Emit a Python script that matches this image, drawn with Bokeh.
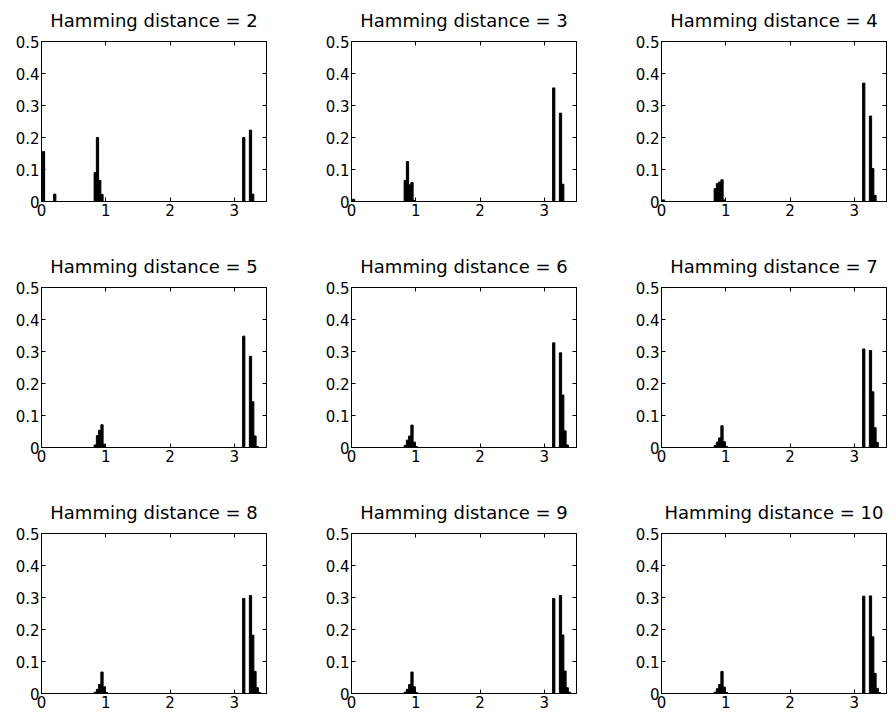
from bokeh.plotting import figure
from bokeh.layouts import gridplot
from bokeh.models import LinearAxis, FixedTicker, Range1d, CustomLabelingPolicy
from bokeh.embed import file_html
from bokeh.resources import INLINE

# ---------------- data ----------------
hamming_distances = [2, 3, 4, 5, 6, 7, 8, 9, 10]
bin_width = 0.035

x_ticks = [0, 1, 2, 3]
x_tick_labels = ["0", "1", "2", "3"]
y_ticks = [0, 0.1, 0.2, 0.3, 0.4, 0.5]
y_tick_labels = ["0", "0.1", "0.2", "0.3", "0.4", "0.5"]

centers_d2 = [0.031, 0.206, 0.836, 0.871, 0.906, 0.941, 3.146, 3.251, 3.286]
freq_d2 = [0.156, 0.023, 0.090, 0.200, 0.066, 0.022, 0.200, 0.223, 0.023]

centers_d3 = [0.031, 0.836, 0.871, 0.906, 0.941, 0.976, 3.146, 3.251, 3.286]
freq_d3 = [0.007, 0.066, 0.125, 0.052, 0.059, 0.003, 0.355, 0.276, 0.054]

centers_d4 = [0.031, 0.836, 0.871, 0.906, 0.941, 0.976, 3.146, 3.251, 3.286, 3.321]
freq_d4 = [0.005, 0.040, 0.056, 0.061, 0.068, 0.005, 0.370, 0.267, 0.103, 0.019]

centers_d5 = [0.836, 0.871, 0.906, 0.941, 0.976, 3.146, 3.251, 3.286, 3.321, 3.356]
freq_d5 = [0.008, 0.037, 0.054, 0.071, 0.010, 0.348, 0.285, 0.143, 0.036, 0.003]

centers_d6 = [0.836, 0.871, 0.906, 0.941, 0.976, 1.011, 3.146, 3.251, 3.286, 3.321, 3.356]
freq_d6 = [0.006, 0.023, 0.036, 0.070, 0.017, 0.003, 0.327, 0.296, 0.164, 0.052, 0.008]

centers_d7 = [0.836, 0.871, 0.906, 0.941, 0.976, 1.011, 3.146, 3.251, 3.286, 3.321, 3.356]
freq_d7 = [0.006, 0.017, 0.030, 0.068, 0.018, 0.003, 0.308, 0.303, 0.174, 0.062, 0.016]

centers_d8 = [0.836, 0.871, 0.906, 0.941, 0.976, 1.011, 3.146, 3.251, 3.286, 3.321, 3.356, 3.391]
freq_d8 = [0.004, 0.013, 0.028, 0.067, 0.021, 0.003, 0.297, 0.306, 0.182, 0.069, 0.018, 0.003]

centers_d9 = [0.836, 0.871, 0.906, 0.941, 0.976, 1.011, 3.146, 3.251, 3.286, 3.321, 3.356, 3.391]
freq_d9 = [0.004, 0.013, 0.028, 0.067, 0.021, 0.003, 0.297, 0.306, 0.183, 0.070, 0.018, 0.004]

centers_d10 = [0.836, 0.871, 0.906, 0.941, 0.976, 1.011, 3.146, 3.251, 3.286, 3.321, 3.356, 3.391]
freq_d10 = [0.004, 0.015, 0.028, 0.069, 0.020, 0.003, 0.304, 0.305, 0.177, 0.063, 0.016, 0.003]

panel_data = [
    (centers_d2, freq_d2), (centers_d3, freq_d3), (centers_d4, freq_d4),
    (centers_d5, freq_d5), (centers_d6, freq_d6), (centers_d7, freq_d7),
    (centers_d8, freq_d8), (centers_d9, freq_d9), (centers_d10, freq_d10),
]

# ---------------- layout ----------------
FONT = "DejaVu Sans"
col_widths = [310, 310, 276]
row_heights = [246, 246, 222]
frame_w, frame_h = 225, 160
border_left, border_top = 41, 41


def style_axis(ax, ticks, labels, show_labels=True):
    ax.ticker = FixedTicker(ticks=ticks)
    ax.major_label_overrides = {t: l for t, l in zip(ticks, labels)}
    ax.major_tick_in = 4
    ax.major_tick_out = 0
    ax.minor_tick_in = 0
    ax.minor_tick_out = 0
    ax.axis_line_color = "black"
    ax.major_tick_line_color = "black"
    ax.major_label_text_font = FONT
    ax.major_label_text_color = "black"
    ax.major_label_standoff = 2
    ax.major_label_text_font_size = "15px"
    if not show_labels:
        # box-side axis: ticks only, no labels drawn
        ax.major_label_policy = CustomLabelingPolicy(code="return new Set()")
        ax.major_label_text_font_size = "2px"
        ax.major_label_standoff = 0


def make_panel(idx):
    row, col = divmod(idx, 3)
    xs, ys = panel_data[idx]
    w, h = col_widths[col], row_heights[row]
    p = figure(
        width=w, height=h,
        x_range=Range1d(0, 3.5), y_range=Range1d(0, 0.5),
        output_backend="svg", toolbar_location=None,
        min_border_left=border_left, min_border_top=border_top,
        min_border_right=w - border_left - frame_w,
        min_border_bottom=h - border_top - frame_h,
    )
    p.vbar(x=xs, top=ys, bottom=0, width=bin_width,
           fill_color="black", line_color="black", line_width=1)
    p.title.text = f"Hamming distance = {hamming_distances[idx]}"
    p.title.align = "center"
    p.title.text_font = FONT
    p.title.text_font_size = "18px"
    p.title.text_font_style = "normal"
    p.title.text_color = "black"
    p.title.standoff = 11
    p.xgrid.visible = False
    p.ygrid.visible = False
    p.outline_line_color = "black"
    p.outline_line_alpha = 1
    p.background_fill_color = "white"
    p.border_fill_color = "white"
    style_axis(p.xaxis[0], x_ticks, x_tick_labels)
    style_axis(p.yaxis[0], y_ticks, y_tick_labels)
    top_ax = LinearAxis()
    right_ax = LinearAxis()
    style_axis(top_ax, x_ticks, x_tick_labels, show_labels=False)
    style_axis(right_ax, y_ticks, y_tick_labels, show_labels=False)
    p.add_layout(top_ax, "above")
    p.add_layout(right_ax, "right")
    return p


panels = [make_panel(i) for i in range(9)]
grid = gridplot([panels[0:3], panels[3:6], panels[6:9]], toolbar_location=None)

open("out.html", "w").write(file_html(grid, INLINE))
